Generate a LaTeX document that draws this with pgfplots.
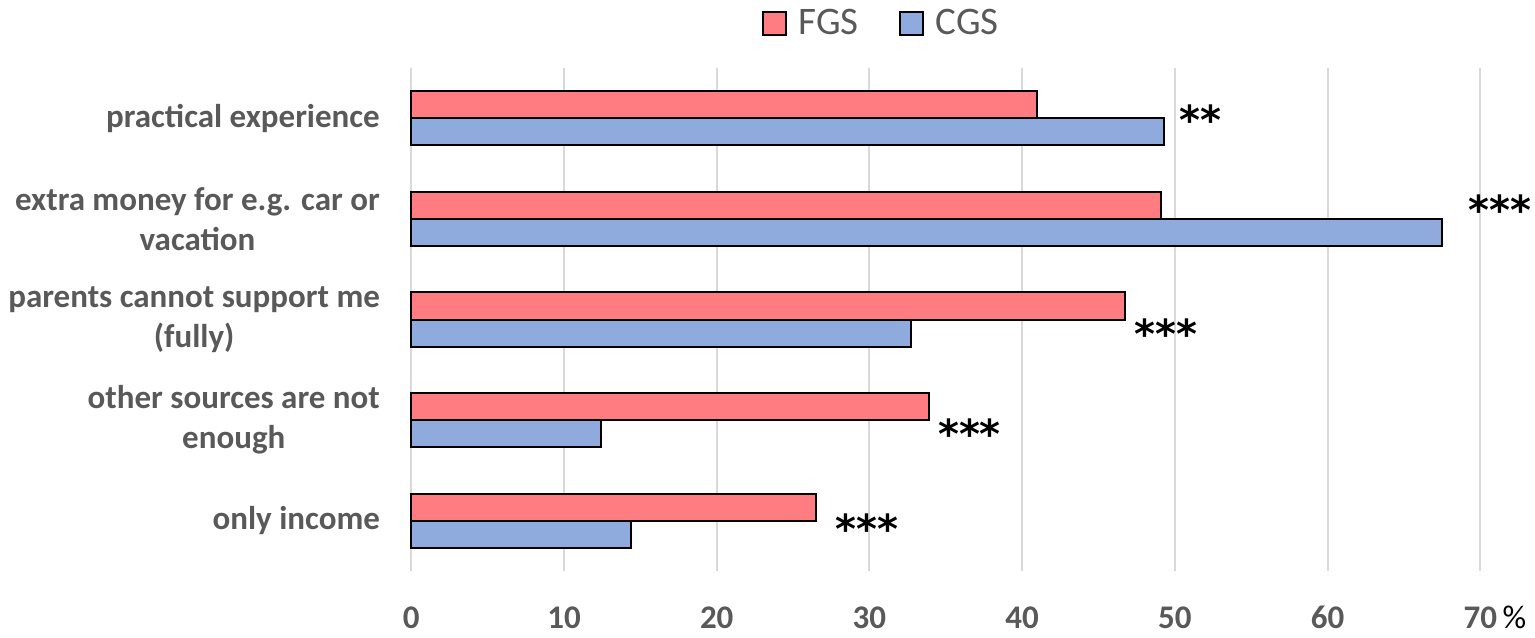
\documentclass[border=0pt]{standalone}
\usepackage{fontspec}
\setmainfont{Carlito}
\newfontfamily\starfont{DejaVu Sans}
\usepackage{pgfplots}
\pgfplotsset{compat=1.18}
\definecolor{fgs}{HTML}{FF7C80}
\definecolor{cgs}{HTML}{8FAADC}
\definecolor{lbl}{HTML}{595959}
\definecolor{grd}{HTML}{D9D9D9}
\begin{document}
\begin{tikzpicture}
\begin{axis}[
  at={(0pt,0pt)}, anchor=south west,
  scale only axis, width=534.5pt, height=251.5pt,
  xmin=0, xmax=70, ymin=-0.5, ymax=4.5,
  xtick={0,10,20,30,40,50,60,70},
  xticklabels={0,10,20,30,40,50,60,{70\rlap{\,\textcolor{black}{\mdseries\%}}}},
  ytick={0,1,2,3,4},
  yticklabels={only income,{other sources are not\\enough},{parents cannot support me\\(fully)},{extra money for e.g. car or\\vacation},practical experience},
  yticklabel style={align=center, anchor=east, inner sep=0pt, xshift=-15.5pt, font=\fontsize{16.5}{20}\selectfont\bfseries, text=lbl},
  xticklabel style={anchor=north, inner sep=0pt, yshift=-17.5pt, font=\fontsize{16.5}{20}\selectfont\bfseries, text=lbl},
  xmajorgrids, grid style={grd, line width=1pt},
  axis line style={draw=none},
  major tick length=0pt,
  clip=false,
  legend style={at={(0.4385,1.0885)}, anchor=center, draw=none, fill=none,
    legend columns=2, font=\fontsize{19.5}{23}\selectfont, text=lbl,
    nodes={inner sep=0pt},
    /tikz/every odd column/.append style={column sep=6pt},
    /tikz/every even column/.append style={column sep=20pt}},
]
\addplot[xbar, bar width=0.27, bar shift=0.135, fill=fgs, draw=black, line width=1pt,
  legend image code/.code={\draw[fill=fgs, draw=black, line width=1pt] (0pt,-5.75pt) rectangle (11.5pt,5.75pt);}]
  coordinates {(26.5,0) (33.9,1) (46.75,2) (49.1,3) (41.0,4)};
\addplot[xbar, bar width=0.27, bar shift=-0.135, fill=cgs, draw=black, line width=1pt,
  legend image code/.code={\draw[fill=cgs, draw=black, line width=1pt] (0pt,-5.75pt) rectangle (11.5pt,5.75pt);}]
  coordinates {(14.4,0) (12.4,1) (32.7,2) (67.5,3) (49.3,4)};
\legend{FGS,CGS}
\addplot[forget plot, only marks, mark=text, text mark={**}, text mark as node=true,
  text mark style={anchor=west, inner sep=0pt, font=\starfont\bfseries\fontsize{20}{20}\selectfont, text=black}]
  table {
x y
50.28 3.986
};
\addplot[forget plot, only marks, mark=text, text mark={***}, text mark as node=true,
  text mark style={anchor=west, inner sep=0pt, font=\starfont\bfseries\fontsize{20}{20}\selectfont, text=black}]
  table {
x y
69.18 3.088
47.33 1.856
34.47 0.861
27.75 -0.078
};
\end{axis}
\pgfresetboundingbox
\useasboundingbox (-205.65pt,-33pt) rectangle (561.85pt,285.5pt);
\end{tikzpicture}
\end{document}
